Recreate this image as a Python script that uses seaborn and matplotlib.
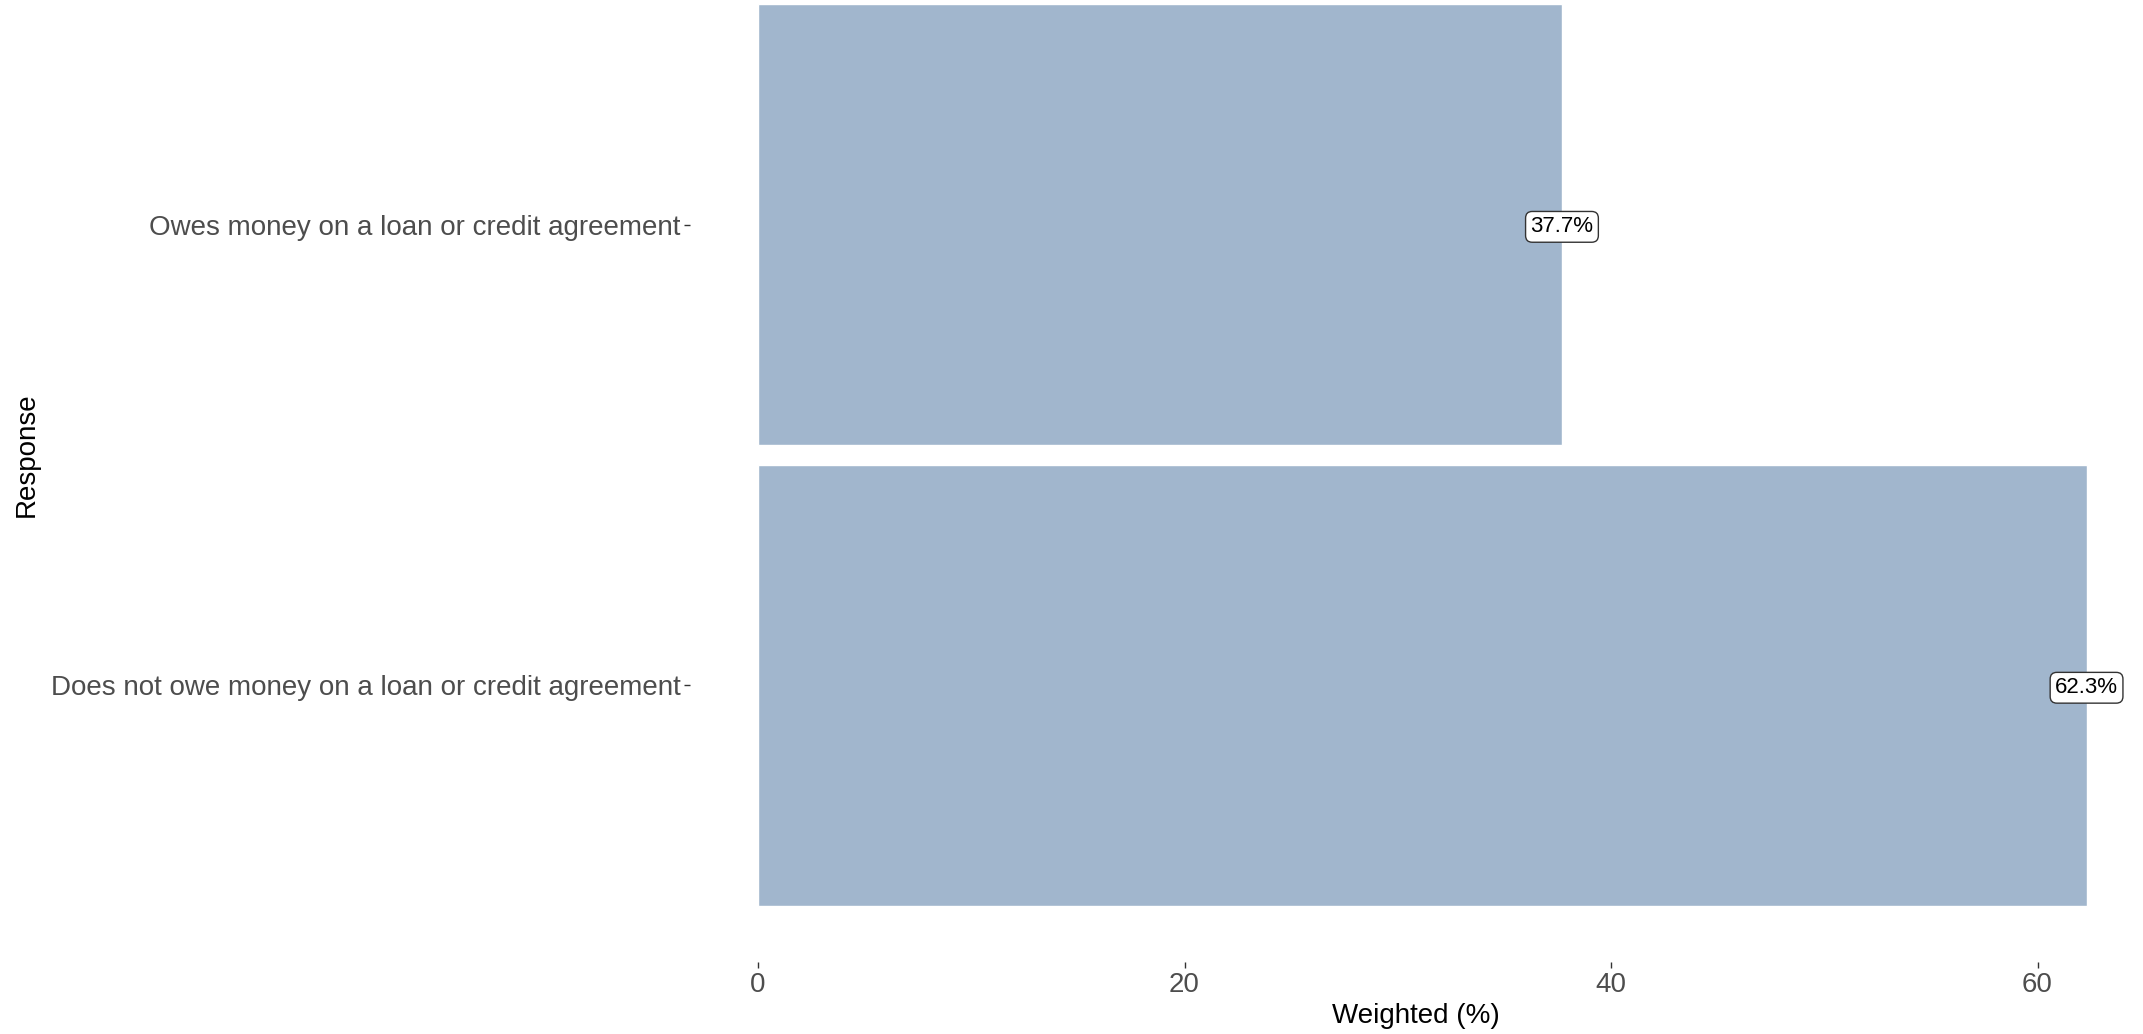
import matplotlib
matplotlib.use("Agg")
import matplotlib.pyplot as plt
import seaborn as sns
import pandas as pd

categories = ["Owes money on a loan or credit agreement",
              "Does not owe money on a loan or credit agreement"]
values = [37.7, 62.3]
labels = ["37.7%", "62.3%"]
x_ticks = [0, 20, 40, 60]

sns.set_theme(style="white")
plt.rcParams['font.family'] = ['Liberation Sans', 'DejaVu Sans']

W, H = 2143, 1034
fig = plt.figure(figsize=(W / 100, H / 100), dpi=100)
left, right, bottom, top = 690, 2142, 962, -52
ax = fig.add_axes([left / W, (H - bottom) / H, (right - left) / W, (bottom - top) / H])

df = pd.DataFrame({"Response": categories, "Weighted": values})
sns.barplot(data=df, x="Weighted", y="Response", order=categories, orient="h",
            color="#A1B6CD", saturation=1, width=0.955, ax=ax)

for i, (v, lab) in enumerate(zip(values, labels)):
    ax.text(v, i + 0.005, lab, ha="center", va="center", fontsize=16, color="black",
            bbox=dict(boxstyle="round,pad=0.22,rounding_size=0.3", fc="white", ec="#333333", lw=1))

ax.set_xlim(-3.19, 64.9)
ax.set_ylim(1.6, -0.6)
ax.set_xticks(x_ticks)
ax.set_xticklabels([str(t) for t in x_ticks])
for s in ax.spines.values():
    s.set_visible(False)
ax.grid(False)
ax.tick_params(axis="both", which="both", length=4, width=1, color="#333333",
               labelsize=20, labelcolor="#4D4D4D", pad=3, left=True, bottom=True)
ax.set_xlabel("Weighted (%)", fontsize=20, color="black", labelpad=4)
ax.set_ylabel("Response", fontsize=20, color="black", labelpad=8)

fig.savefig("out.png", dpi=100, facecolor="white")
